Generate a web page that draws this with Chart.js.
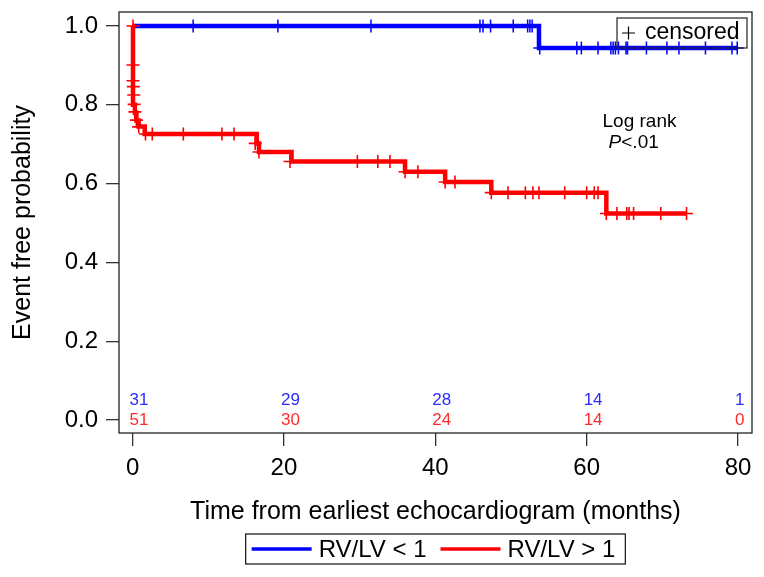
<!DOCTYPE html>
<html>
<head>
<meta charset="utf-8">
<script src="https://cdn.jsdelivr.net/npm/chart.js@4.4.1/dist/chart.umd.min.js"></script>
<style>
  html, body { margin: 0; padding: 0; background: #fff; }
  canvas { display: block; }
</style>
</head>
<body>
<canvas id="km" width="764" height="577"></canvas>
<script>
// Kaplan-Meier curves, time in months
const blueTimes = [0, 53.7, 79.9];
const blueSurv = [1.0, 0.944, 0.944];
const blueCensorTimes = [8.0, 19.2, 31.5, 45.9, 46.3, 47.3, 50.3, 52.2, 52.5, 52.8,
  53.8, 58.7, 59.3, 61.5, 63.2, 63.5, 63.8, 64.2, 65.2, 65.4, 67.9, 70.6, 72.2, 75.7, 79.2, 79.9];
const blueCensorSurv = [1, 1, 1, 1, 1, 1, 1, 1, 1, 1,
  0.944, 0.944, 0.944, 0.944, 0.944, 0.944, 0.944, 0.944, 0.944, 0.944, 0.944, 0.944, 0.944, 0.944, 0.944, 0.944];

const redTimes = [0, 0.05, 0.3, 0.5, 0.8, 1.6, 16.4, 16.7, 21.0, 36.0, 41.3, 47.4, 62.6, 73.2];
const redSurv = [1.0, 0.80, 0.78, 0.76, 0.745, 0.726, 0.702, 0.680, 0.656, 0.630, 0.604, 0.577, 0.524, 0.524];
const redCensorTimes = [0.05, 0.05, 0.05, 0.1, 0.15, 0.2, 0.3, 0.5, 0.8,
  1.7, 2.6, 6.7, 11.8, 13.4, 16.2, 16.7,
  20.8, 29.7, 32.4, 34.0, 36.0, 37.7, 41.3, 42.6,
  47.4, 49.6, 51.9, 52.9, 53.7, 57.1, 60.0, 61.0, 61.5,
  62.6, 64.0, 65.3, 65.6, 66.2, 69.8, 73.2];
const redCensorSurv = [1.0, 0.901, 0.861, 0.846, 0.825, 0.801, 0.782, 0.761, 0.744,
  0.726, 0.726, 0.726, 0.726, 0.726, 0.702, 0.680,
  0.656, 0.656, 0.656, 0.656, 0.630, 0.630, 0.604, 0.604,
  0.577, 0.577, 0.577, 0.577, 0.577, 0.577, 0.577, 0.577, 0.577,
  0.524, 0.524, 0.524, 0.524, 0.524, 0.524, 0.524];

// axis ticks and numbers at risk
const xTicks = [0, 20, 40, 60, 80];
const yTicks = [0, 0.2, 0.4, 0.6, 0.8, 1.0];
const riskBlue = [31, 29, 28, 14, 1];
const riskRed = [51, 30, 24, 14, 0];

const BLUE = '#0000ff';
const RED = '#ff0000';
const FONT = '"Liberation Sans", Arial, sans-serif';

const toPoints = (xs, ys) => xs.map((x, i) => ({ x: x, y: ys[i] }));

// box, numbers at risk, annotations and the framed legends
const kmExtras = {
  id: 'kmExtras',
  afterDraw(chart) {
    const { ctx, chartArea: a, scales: { x, y } } = chart;
    ctx.save();

    // frame round the plot
    ctx.strokeStyle = '#222';
    ctx.lineWidth = 1.3;
    ctx.strokeRect(a.left, a.top, a.right - a.left, a.bottom - a.top);

    // numbers at risk
    ctx.font = '17px ' + FONT;
    ctx.textAlign = 'left';
    ctx.textBaseline = 'middle';
    xTicks.forEach((t, i) => {
      const px = x.getPixelForValue(t) - 3;
      ctx.fillStyle = '#2b2bff';
      ctx.fillText(String(riskBlue[i]), px, y.getPixelForValue(0.051));
      ctx.fillStyle = '#ff2b2b';
      ctx.fillText(String(riskRed[i]), px, y.getPixelForValue(0.0));
    });

    // log rank note
    ctx.fillStyle = '#000';
    ctx.font = '19px ' + FONT;
    ctx.fillText('Log rank', x.getPixelForValue(62.1), y.getPixelForValue(0.758));
    const px = x.getPixelForValue(62.9), py = y.getPixelForValue(0.704);
    ctx.font = 'italic 19px ' + FONT;
    ctx.fillText('P', px, py);
    const pw = ctx.measureText('P').width;
    ctx.font = '19px ' + FONT;
    ctx.fillText('<.01', px + pw, py);

    // censored key, top right
    const kx = a.right - 135, ky = a.top + 6;
    ctx.strokeStyle = '#222';
    ctx.lineWidth = 1.2;
    ctx.strokeRect(kx, ky, 130, 30);
    ctx.strokeStyle = '#000';
    ctx.lineWidth = 1.2;
    ctx.beginPath();
    ctx.moveTo(kx + 5, ky + 15); ctx.lineTo(kx + 18, ky + 15);
    ctx.moveTo(kx + 11.5, ky + 8.5); ctx.lineTo(kx + 11.5, ky + 21.5);
    ctx.stroke();
    ctx.font = '23px ' + FONT;
    ctx.fillText('censored', kx + 28, ky + 15);

    // group legend below the axis title
    const groups = chart.data.datasets.filter(d => d.kmLine);
    groups.reverse();
    ctx.font = '24px ' + FONT;
    const lineLen = 60, pad = 6, gap = 7, between = 14;
    let total = pad;
    groups.forEach((g, i) => {
      total += lineLen + gap + ctx.measureText(g.label).width + (i < groups.length - 1 ? between : 0);
    });
    total += 10;
    const lx = (a.left + a.right) / 2 - total / 2, ly = 534, lh = 30;
    ctx.strokeStyle = '#222';
    ctx.lineWidth = 1.3;
    ctx.strokeRect(lx, ly, total, lh);
    let cx = lx + pad;
    groups.forEach(g => {
      ctx.strokeStyle = g.borderColor;
      ctx.lineWidth = 3.5;
      ctx.beginPath();
      ctx.moveTo(cx, ly + lh / 2); ctx.lineTo(cx + lineLen, ly + lh / 2);
      ctx.stroke();
      cx += lineLen + gap;
      ctx.fillStyle = '#000';
      ctx.fillText(g.label, cx, ly + lh / 2 + 1);
      cx += ctx.measureText(g.label).width + between;
    });

    ctx.restore();
  }
};

const tickFont = { family: FONT, size: 24 };
const titleFont = { family: FONT, size: 25 };

new Chart(document.getElementById('km'), {
  type: 'line',
  data: {
    datasets: [
      {
        label: 'RV/LV > 1 censored',
        type: 'scatter',
        data: toPoints(redCensorTimes, redCensorSurv),
        pointStyle: 'cross',
        pointRadius: 6.5,
        pointBorderWidth: 1.6,
        borderColor: RED,
        backgroundColor: RED
      },
      {
        label: 'RV/LV > 1',
        kmLine: true,
        data: toPoints(redTimes, redSurv),
        stepped: 'before',
        borderColor: RED,
        borderWidth: 4.5,
        pointRadius: 0,
        fill: false
      },
      {
        label: 'RV/LV < 1 censored',
        type: 'scatter',
        data: toPoints(blueCensorTimes, blueCensorSurv),
        pointStyle: 'cross',
        pointRadius: 6.5,
        pointBorderWidth: 1.5,
        borderColor: BLUE,
        backgroundColor: BLUE
      },
      {
        label: 'RV/LV < 1',
        kmLine: true,
        data: toPoints(blueTimes, blueSurv),
        stepped: 'before',
        borderColor: BLUE,
        borderWidth: 4.5,
        pointRadius: 0,
        fill: false
      }
    ]
  },
  options: {
    responsive: false,
    animation: false,
    devicePixelRatio: 1,
    layout: { padding: { top: 12, right: 12, left: 0, bottom: 0 } },
    plugins: {
      legend: { display: false },
      tooltip: { enabled: false }
    },
    scales: {
      x: {
        type: 'linear',
        min: -1.8,
        max: 81.85,
        afterBuildTicks: s => { s.ticks = xTicks.map(v => ({ value: v })); },
        afterFit: s => { s.height = 144; s.paddingLeft = 0; s.paddingRight = 0; },
        ticks: { font: tickFont, color: '#000', padding: 8, maxRotation: 0,
          callback: v => String(v) },
        grid: { drawOnChartArea: false, drawTicks: true, tickLength: 13, color: '#333', lineWidth: 1.3 },
        border: { display: false },
        title: {
          display: true,
          text: 'Time from earliest echocardiogram (months)',
          font: titleFont,
          color: '#000',
          padding: { top: 0, bottom: 50 }
        }
      },
      y: {
        type: 'linear',
        min: -0.033,
        max: 1.0355,
        afterBuildTicks: s => { s.ticks = yTicks.map(v => ({ value: v })); },
        afterFit: s => { s.width = 119; s.paddingTop = 0; s.paddingBottom = 0; },
        ticks: { font: tickFont, color: '#000', padding: 8,
          callback: v => v.toFixed(1) },
        grid: { drawOnChartArea: false, drawTicks: true, tickLength: 13, color: '#333', lineWidth: 1.3 },
        border: { display: false },
        title: {
          display: true,
          text: 'Event free probability',
          font: titleFont,
          color: '#000',
          padding: { top: 8, bottom: 0 }
        }
      }
    }
  },
  plugins: [kmExtras]
});
</script>
</body>
</html>
